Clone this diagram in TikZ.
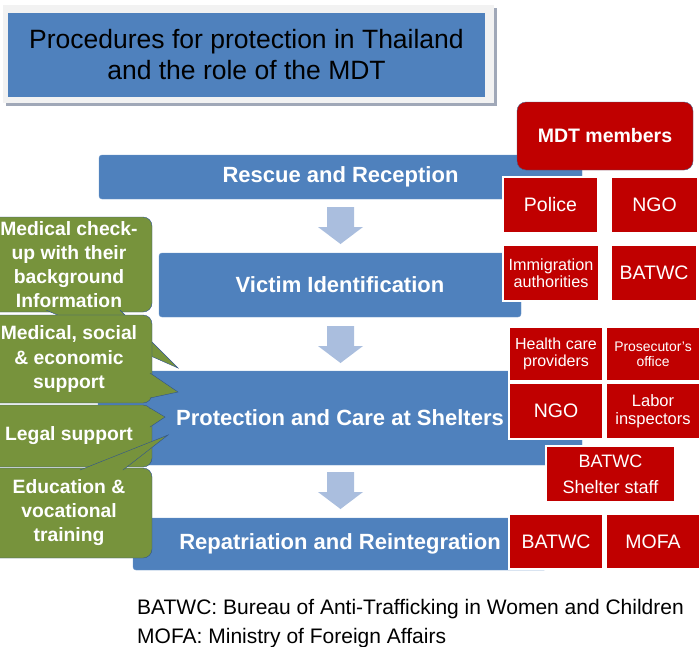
\documentclass[tikz,border=0pt]{standalone}
\usepackage{fontspec}
\setmainfont{Liberation Sans}

\definecolor{stepblue}{RGB}{79,129,189}
\definecolor{flowblue}{RGB}{170,190,222}
\definecolor{mdtred}{RGB}{192,0,0}
\definecolor{noteolive}{RGB}{119,147,60}
\definecolor{noteedge}{RGB}{47,82,143}
\definecolor{titleframe}{RGB}{242,242,242}
\definecolor{titleshadow}{RGB}{160,168,184}

\begin{document}
\begin{tikzpicture}[x=1pt, y=-1pt, font=\fontsize{19.5}{22}\selectfont]
    \tikzstyle{stage}=[fill=stepblue, draw=stepblue!85!white, rounded corners=3pt, text=white, inner sep=0pt, font=\bfseries\fontsize{22}{26}\selectfont]
    \tikzstyle{member}=[fill=mdtred, draw=white, line width=1.5pt, text=white, align=center, inner sep=0pt]
    \tikzstyle{note}=[fill=noteolive, draw=noteedge, rounded corners=9pt, text=white, align=center, inner sep=0pt, minimum width=166pt, font=\bfseries\fontsize{19.3}{24}\selectfont]
    \tikzstyle{wedge}=[fill=noteolive, draw=noteedge]
    \tikzstyle{flow}=[fill=flowblue]

    \useasboundingbox (0,0) rectangle (700,646);

    % title
    \fill[titleshadow] (6,8) rectangle (497,106);
    \fill[titleframe] (3,5) rectangle (494,103);
    \node[fill=stepblue, minimum width=477pt, minimum height=84pt, align=center, inner sep=0pt, font=\fontsize{26.5}{31}\selectfont] (title) at (246.5,55) {Procedures for protection in Thailand\\and the role of the MDT};

    % stages
    \node[stage, minimum width=483pt, minimum height=44pt] (rescue) at (340.5,177) {Rescue and Reception};
    \node[stage, minimum width=362pt, minimum height=64pt] (victim) at (340,285) {Victim Identification};
    \node[stage, minimum width=484pt, minimum height=94pt] (protect) at (340,418) {Protection and Care at Shelters};
    \node[stage, minimum width=414pt, minimum height=52pt] (repat) at (340,544) {Repatriation and Reintegration};

    \foreach \y in {207,326,472}
        \fill[flow] (327,\y) -- (354,\y) -- (354,\y+20) -- (363,\y+20) -- (340.5,\y+37) -- (318,\y+20) -- (327,\y+20) -- cycle;

    % callouts
    \node[note, minimum height=95pt] (checkup) at (69,264.5) {Medical check-\\up with their\\background\\Information};
    \filldraw[wedge] (46,310) -- (178,368) -- (120,310);
    \node[note, minimum height=88pt] (support) at (69,359) {Medical, social\\\& economic\\support};
    \filldraw[wedge] (150,373) -- (178,392) -- (150,398);
    \node[note, minimum height=62pt] (legal) at (69,436) {Legal support};
    \filldraw[wedge] (150,408) -- (165,417) -- (150,427);
    \node[note, minimum height=90pt] (training) at (69,513) {Education \&\\vocational\\training};
    \filldraw[wedge] (80,470) -- (168,435) -- (123,470);

    % MDT members
    \node[fill=mdtred, draw=noteedge!70!gray, rounded corners=9pt, text=white, minimum width=176pt, minimum height=68pt, font=\bfseries\fontsize{19.5}{22}\selectfont] (mdt) at (605,136) {MDT members};
    \node[member, minimum width=95pt, minimum height=56pt] (police) at (550.5,205) {Police};
    \node[member, minimum width=87pt, minimum height=56pt] (ngoA) at (654.5,205) {NGO};
    \node[member, minimum width=96pt, minimum height=56pt, font=\fontsize{16.2}{17.5}\selectfont] (immig) at (551,273) {Immigration\\authorities};
    \node[member, minimum width=86pt, minimum height=56pt] (batwcA) at (654,273) {BATWC};
    \node[member, minimum width=94pt, minimum height=54pt, font=\fontsize{16}{17.5}\selectfont] (health) at (556,354) {Health care\\providers};
    \node[member, minimum width=94pt, minimum height=54pt, font=\fontsize{13.9}{15}\selectfont] (prosec) at (653,354) {Prosecutor's\\office};
    \node[member, minimum width=94pt, minimum height=56pt] (ngoB) at (556,411) {NGO};
    \node[member, minimum width=94pt, minimum height=56pt, font=\fontsize{16.5}{18}\selectfont] (labor) at (653,411) {Labor\\inspectors};
    \node[member, minimum width=129pt, minimum height=56pt, font=\fontsize{18}{26}\selectfont] (shelter) at (610.5,474) {BATWC\\Shelter staff};
    \node[member, minimum width=94pt, minimum height=55pt] (batwcB) at (556,541.5) {BATWC};
    \node[member, minimum width=94pt, minimum height=55pt] (mofa) at (653,541.5) {MOFA};

    % footnotes
    \node[anchor=base west, inner sep=0pt, font=\fontsize{21}{24}\selectfont] (batwcnote) at (137,614) {BATWC: Bureau of Anti-Trafficking in Women and Children};
    \node[anchor=base west, inner sep=0pt, font=\fontsize{21}{24}\selectfont] (mofanote) at (137,643) {MOFA: Ministry of Foreign Affairs};
\end{tikzpicture}
\end{document}
